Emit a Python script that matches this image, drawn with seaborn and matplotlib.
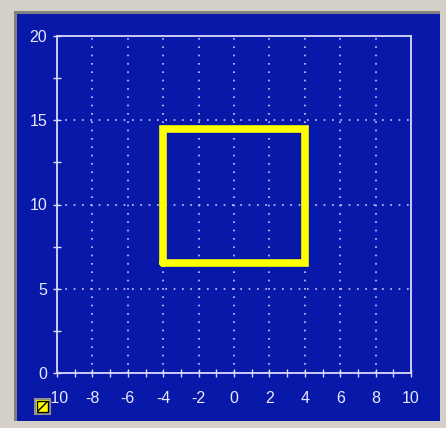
import matplotlib
matplotlib.use("Agg")
import matplotlib.pyplot as plt
import seaborn as sns
from matplotlib.patches import Rectangle
from matplotlib.lines import Line2D

# square outline traced by the points
square_x = [-4, 4, 4, -4, -4]
square_y = [6.5, 6.5, 14.5, 14.5, 6.5]

x_ticks = [-10, -8, -6, -4, -2, 0, 2, 4, 6, 8, 10]
y_ticks = [0, 5, 10, 15, 20]

blue = "#0818A8"
light = "#D8D8F8"

sns.set_style("dark")
plt.rcParams["font.family"] = ["Liberation Sans", "DejaVu Sans"]
plt.rcParams["axes.unicode_minus"] = False

fig = plt.figure(figsize=(4.46, 4.28), dpi=100)
fig.patch.set_facecolor("#D4D0C8")

W, H = 446, 428
def fx(px): return px / W
def fy(py): return 1 - py / H

# blue panel with dark edge at top/left
fig.add_artist(Rectangle((fx(14), fy(421)), fx(426), 410 / H, transform=fig.transFigure,
                         facecolor="#808080", edgecolor="none", zorder=0))
fig.add_artist(Rectangle((fx(17), fy(421)), fx(423), 407 / H, transform=fig.transFigure,
                         facecolor=blue, edgecolor="none", zorder=0))

ax = fig.add_axes([fx(57), fy(373), fx(354), 337 / H])
ax.set_facecolor(blue)

sns.lineplot(x=square_x, y=square_y, sort=False, estimator=None, ax=ax,
             color="#FFFF00", linewidth=5.5, solid_joinstyle="miter", zorder=3)

ax.set_xlim(-10, 10)
ax.set_ylim(0, 20)
ax.set_xticks(x_ticks)
ax.set_yticks(y_ticks)
ax.set_xticks([v + 1 for v in x_ticks[:-1]], minor=True)
ax.set_yticks([v + 2.5 for v in y_ticks[:-1]], minor=True)
ax.set_xlabel("")
ax.set_ylabel("")

ax.grid(True, which="major", color="#C8C8FF", linestyle=(0, (1, 4)), linewidth=1.2)
ax.grid(False, which="minor")
ax.set_axisbelow(True)

for s in ax.spines.values():
    s.set_visible(True)
    s.set_color(light)
    s.set_linewidth(1.3)

ax.tick_params(which="both", direction="inout", length=6, width=1, color=light,
               labelcolor="#E8E8FF", labelsize=11.5, bottom=True, left=True,
               top=False, right=False)
ax.tick_params(axis="x", which="both", pad=10)
ax.tick_params(axis="y", which="both", pad=4)

# small legend icon
fig.add_artist(Rectangle((fx(35), fy(414)), fx(15), 15 / H, transform=fig.transFigure,
                         facecolor="#FFFF00", edgecolor="#909090", linewidth=1.5, zorder=5))
fig.add_artist(Rectangle((fx(37), fy(412)), fx(11), 11 / H, transform=fig.transFigure,
                         facecolor="none", edgecolor="black", linewidth=1, zorder=6))
fig.add_artist(Line2D([fx(38), fx(47)], [fy(411), fy(402)], transform=fig.transFigure,
                      color="black", linewidth=1, zorder=7))

fig.savefig("out.png", dpi=100, facecolor=fig.get_facecolor())
